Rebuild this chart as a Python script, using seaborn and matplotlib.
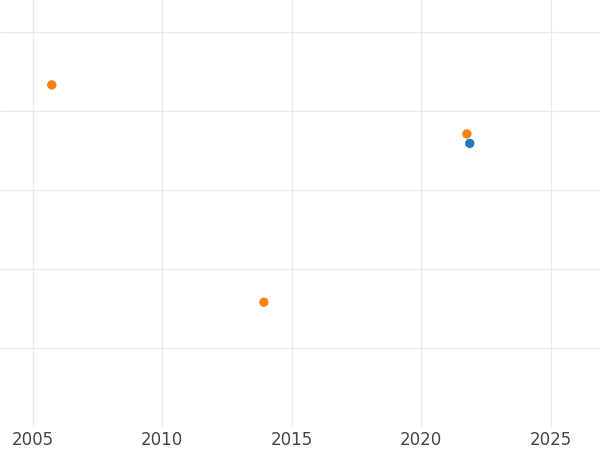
import matplotlib
matplotlib.use("Agg")
import matplotlib.pyplot as plt
import seaborn as sns
import pandas as pd

# values
years = [2005.73, 2013.92, 2021.76, 2021.87]
values = [4.33, 1.58, 3.71, 3.59]
series = ["b", "b", "b", "a"]
palette = {"a": "#1f77b4", "b": "#ff7f0e"}

df = pd.DataFrame({"year": years, "value": values, "series": series})

sns.set_style("white")
fig = plt.figure(figsize=(6, 4.5), dpi=100)
ax = fig.add_axes([0, 23 / 450, 1, 1 - 23 / 450])

sns.scatterplot(data=df, x="year", y="value", hue="series", palette=palette,
                s=45, edgecolor="none", legend=False, ax=ax, zorder=3)

ax.set_xlim(2003.73, 2026.9)
ax.set_ylim(0, 5.405)
ax.set_xticks([2005, 2010, 2015, 2020, 2025])
ax.set_yticks([1, 2, 3, 4, 5])
ax.set_yticklabels([])
ax.grid(True, color="#ebebeb", linewidth=1)
ax.tick_params(axis="x", length=0, labelsize=12, labelcolor="#444444", pad=3)
ax.tick_params(axis="y", length=0)
ax.set_xlabel("")
ax.set_ylabel("")
for s in ax.spines.values():
    s.set_visible(False)

fig.savefig("out.png", dpi=100)
